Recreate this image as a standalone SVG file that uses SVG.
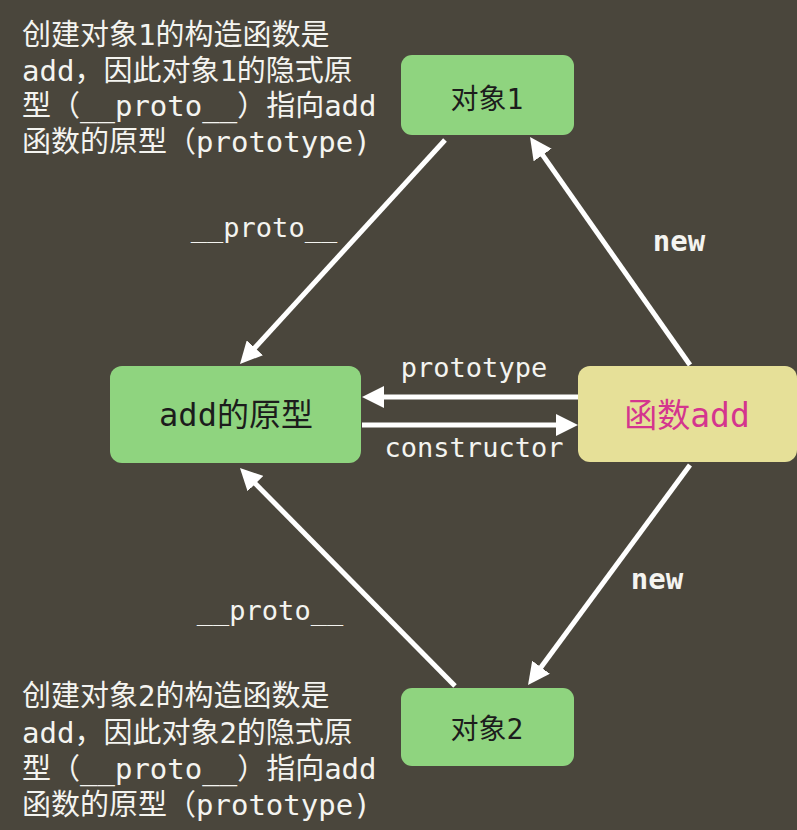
<svg xmlns="http://www.w3.org/2000/svg" width="797" height="830" viewBox="0 0 797 830">
<defs>
<marker id="ah" markerUnits="userSpaceOnUse" viewBox="0 0 22 22" markerWidth="22" markerHeight="22" refX="6" refY="11" orient="auto">
<path d="M0,0 L22,11 L0,22 z" fill="#ffffff"/>
</marker>
<style>
.bg{fill:#4a463c}
.g{fill:#8fd47f}
.y{fill:#e6e098}
.nt{font-family:"DejaVu Sans Mono","Noto Sans CJK SC",monospace;fill:#1c1c1c;text-anchor:middle}
.lbl{font-family:"DejaVu Sans Mono","Noto Sans CJK SC",monospace;fill:#f4f4f0;font-size:27px;text-anchor:middle}
.new{font-family:"DejaVu Sans Mono",monospace;fill:#f4f4f0;font-size:29px;font-weight:bold;text-anchor:middle}
.note{font-family:"DejaVu Sans Mono","Noto Sans CJK SC",monospace;fill:#f4f4f0;font-size:29px}
.c line{stroke:#ffffff;stroke-width:5;marker-end:url(#ah)}
</style>
</defs>
<rect class="bg" x="0" y="0" width="797" height="830"/>

<g id="note1" class="note">
<text x="22" y="45">创建对象1的构造函数是</text>
<text x="22" y="81">add，因此对象1的隐式原</text>
<text x="22" y="116">型（__proto__）指向add</text>
<text x="22" y="152">函数的原型（prototype)</text>
</g>
<g id="note2" class="note">
<text x="22" y="706">创建对象2的构造函数是</text>
<text x="22" y="743">add，因此对象2的隐式原</text>
<text x="22" y="779">型（__proto__）指向add</text>
<text x="22" y="815">函数的原型（prototype)</text>
</g>

<g class="c" id="connectors">
<line x1="445" y1="140" x2="250.8" y2="352.2"/>
<line x1="690" y1="365" x2="539.2" y2="150.1"/>
<line x1="578" y1="397" x2="378" y2="397"/>
<line x1="362" y1="425" x2="562" y2="425"/>
<line x1="690" y1="465" x2="537.5" y2="672.1"/>
<line x1="455" y1="686" x2="251.2" y2="479.4"/>
<text class="lbl" x="264" y="237">__proto__</text>
<text class="new" x="679" y="251">new</text>
<text class="lbl" x="474" y="377">prototype</text>
<text class="lbl" x="474" y="457">constructor</text>
<text class="new" x="657" y="589">new</text>
<text class="lbl" x="270" y="620">__proto__</text>
</g>

<g id="obj1">
<rect class="g" x="401" y="55" width="173" height="80" rx="11"/>
<text class="nt" x="487" y="109" font-size="28">对象1</text>
</g>
<g id="addProto">
<rect class="g" x="110" y="366" width="251" height="97" rx="12"/>
<text class="nt" x="236" y="426" font-size="32">add的原型</text>
</g>
<g id="fnAdd">
<rect class="y" x="578" y="366" width="219" height="96" rx="12"/>
<text class="nt" x="687" y="427" font-size="33" style="fill:#d4358e">函数add</text>
</g>
<g id="obj2">
<rect class="g" x="401" y="688" width="173" height="78" rx="11"/>
<text class="nt" x="487" y="739" font-size="28">对象2</text>
</g>
</svg>
